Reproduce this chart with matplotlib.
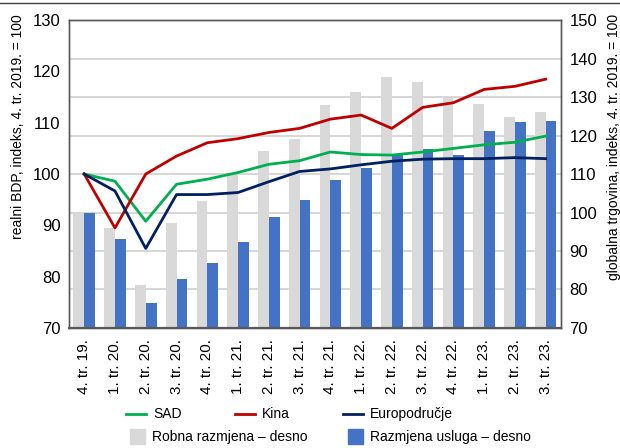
import matplotlib
matplotlib.use("Agg")
import matplotlib.pyplot as plt
from matplotlib.lines import Line2D
from matplotlib.patches import Rectangle
import numpy as np

plt.rcParams['font.family'] = ['Liberation Sans Narrow', 'Liberation Sans', 'DejaVu Sans']

# quarters
labels = ['4. tr. 19.', '1. tr. 20.', '2. tr. 20.', '3. tr. 20.', '4. tr. 20.',
          '1. tr. 21.', '2. tr. 21.', '3. tr. 21.', '4. tr. 21.', '1. tr. 22.',
          '2. tr. 22.', '3. tr. 22.', '4. tr. 22.', '1. tr. 23.', '2. tr. 23.',
          '3. tr. 23.']

# real GDP, left axis
sad = [100, 98.6, 90.8, 98.0, 99.0, 100.3, 101.9, 102.6, 104.3, 103.8,
       103.7, 104.3, 105.0, 105.7, 106.2, 107.4]
kina = [100, 89.5, 100, 103.5, 106.1, 106.9, 108.1, 108.9, 110.7, 111.5,
        108.9, 113.0, 113.9, 116.5, 117.1, 118.5]
euro = [100, 96.7, 85.5, 96.0, 96.0, 96.4, 98.5, 100.5, 101.0, 101.8,
        102.5, 102.9, 103.0, 103.0, 103.2, 103.0]

# global trade, right axis
robna = [100, 96.0, 81.2, 97.3, 103.0, 110.1, 116.0, 119.1, 127.9, 131.3,
         135.2, 133.9, 129.8, 128.2, 124.8, 126.1]
usluge = [100, 93.1, 76.5, 82.7, 86.9, 92.3, 98.8, 103.2, 108.4, 111.6,
          114.9, 116.5, 114.9, 121.2, 123.5, 123.8]

c_sad = '#00b050'
c_kina = '#c00000'
c_euro = '#002060'
c_robna = '#d9d9d9'
c_usl = '#4472c4'

fig = plt.figure(figsize=(6.2, 4.48), dpi=100)
ax = fig.add_axes([0.111, 0.268, 0.794, 0.687])
ax2 = ax.twinx()

x = np.arange(len(labels))
bw = 0.35
ax2.bar(x - bw, robna, width=bw, align='edge', color=c_robna, zorder=2)
ax2.bar(x, usluge, width=bw, align='edge', color=c_usl, zorder=3)
ax2.set_ylim(70, 150)
ax2.set_yticks(np.arange(70, 151, 10))
ax2.set_axisbelow(True)
ax2.grid(axis='y', color='#d0d0d0', lw=1.2)
ax2.set_xticks(np.arange(0.5, 15, 1), minor=True)
ax2.grid(axis='x', which='minor', color='#d0d0d0', lw=1.2)

ax.plot(x, sad, color=c_sad, lw=2.0)
ax.plot(x, kina, color=c_kina, lw=2.0)
ax.plot(x, euro, color=c_euro, lw=2.0)
ax.set_ylim(70, 130)
ax.set_yticks(np.arange(70, 131, 10))
ax.set_xlim(-0.5, 15.5)
ax.set_xticks(x)
ax.set_xticklabels(labels, rotation=90)
ax.set_zorder(ax2.get_zorder() + 1)
ax.patch.set_visible(False)

for a in (ax, ax2):
    a.tick_params(axis='both', which='both', length=0, labelsize=12, pad=6)
    for s in a.spines.values():
        s.set_color('#595959')
        s.set_linewidth(1.0)
ax.tick_params(axis='x', labelsize=11, pad=8)
ax.spines['bottom'].set_linewidth(1.6)

fig.text(0.029, 0.968, 'realni BDP, indeks, 4. tr. 2019. = 100', rotation=90,
         va='top', ha='center', fontsize=10)
fig.text(0.99, 0.968, 'globalna trgovina, indeks, 4. tr. 2019. = 100', rotation=90,
         va='top', ha='center', fontsize=10)

# top rule
fig.add_artist(Line2D([0, 1], [0.993, 0.993], color='#404040', lw=1.0))

# legend drawn by hand
def fy(py):
    return 1 - py / 448

def fx(px):
    return px / 620

for px, col, txt in [(126, c_sad, 'SAD'), (235, c_kina, 'Kina'), (343, c_euro, 'Europodručje')]:
    fig.add_artist(Line2D([fx(px), fx(px + 20)], [fy(414), fy(414)], color=col, lw=2.0))
    fig.text(fx(px + 27), fy(414), txt, va='center', ha='left', fontsize=10)
for px, col, txt in [(130, c_robna, 'Robna razmjena – desno'), (348, c_usl, 'Razmjena usluga – desno')]:
    fig.add_artist(Rectangle((fx(px), fy(444)), fx(15), 15 / 448, color=col))
    fig.text(fx(px + 22), fy(437), txt, va='center', ha='left', fontsize=10)

fig.savefig('out.png', dpi=100)
